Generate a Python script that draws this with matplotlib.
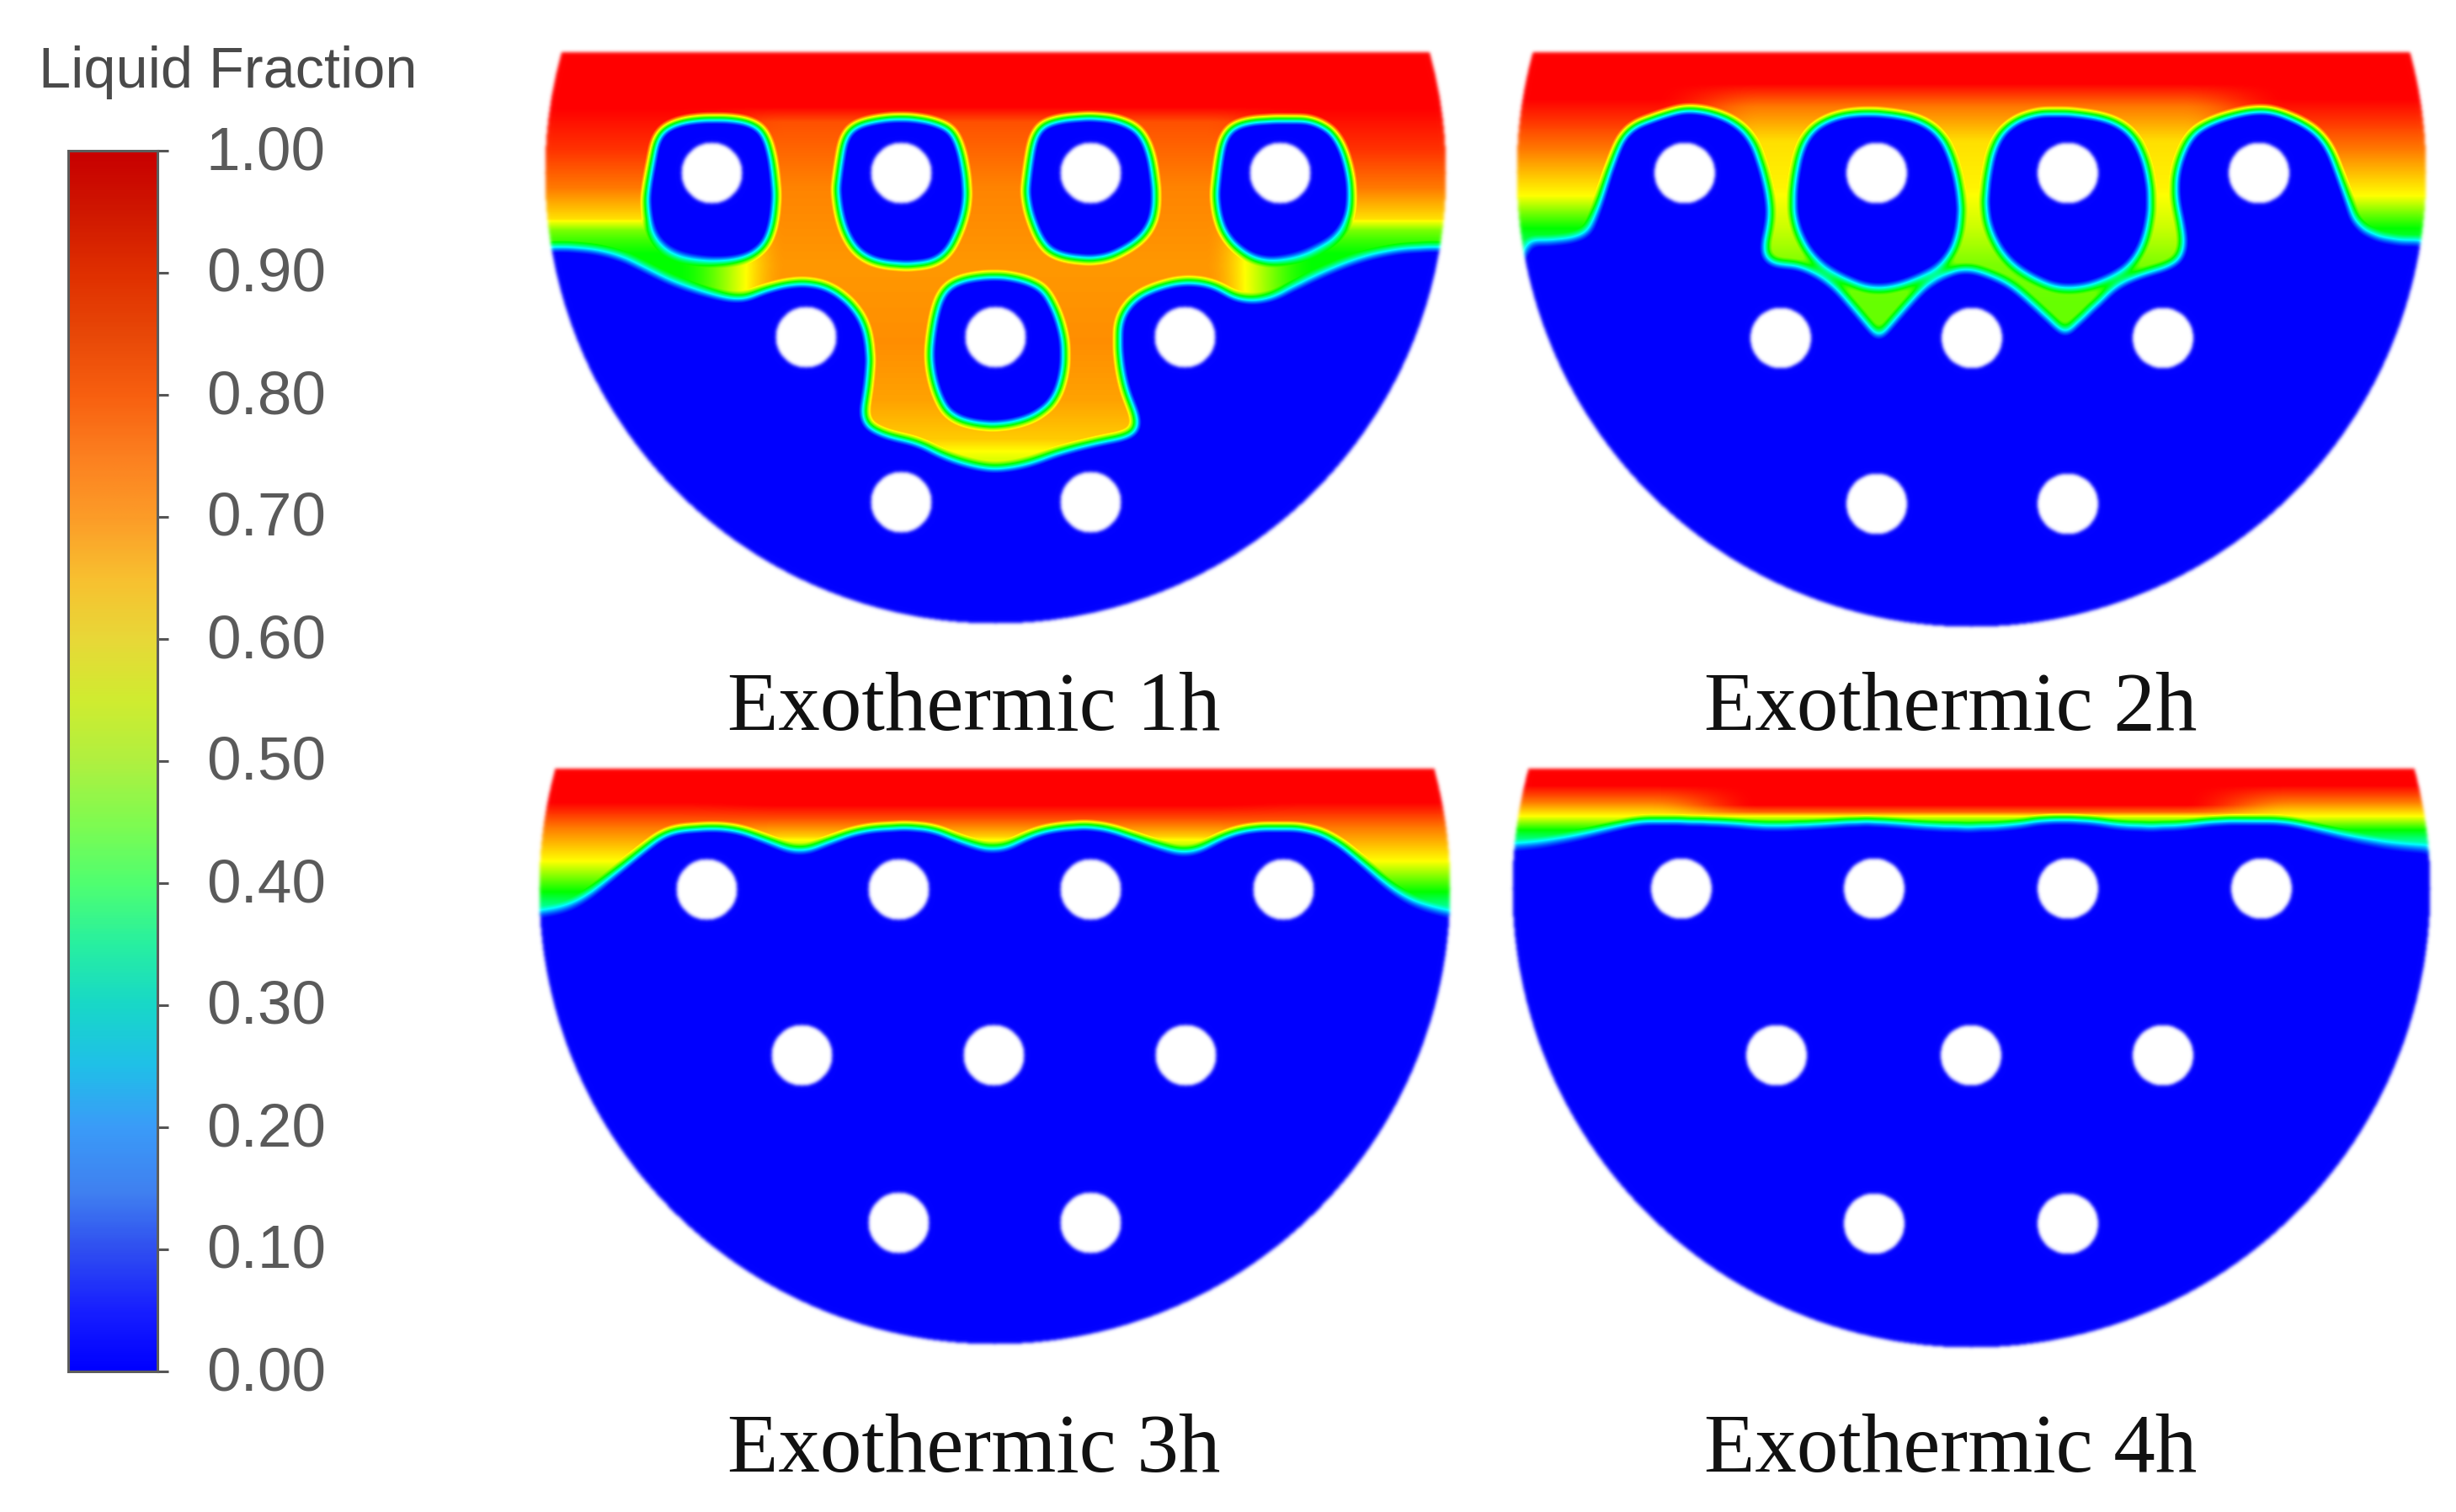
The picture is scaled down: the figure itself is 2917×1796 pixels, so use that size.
import numpy as np
import matplotlib
matplotlib.use("Agg")
import matplotlib.pyplot as plt
from matplotlib.colors import LinearSegmentedColormap
from matplotlib.path import Path
from matplotlib.transforms import ScaledTranslation

W, H = 2917, 1796

# ---------- data ----------
bar_levels = [0, .05, .10, .145, .20, .25, .30, .35, .40, .45, .50, .55, .60, .65, .70, .75, .80, .85, .90, .95, 1.0]
bar_colors = ['#0000ff', '#1820ff', '#3050f0', '#4080f0', '#3a9cf8', '#20c0e8', '#18d8c8', '#28f0a0',
              '#50ff70', '#80fb50', '#b0f040', '#d0ec30', '#e8d838', '#f8c030', '#fc9c28', '#fc8020',
              '#f86010', '#e84808', '#e03000', '#d01800', '#c80000']
bar_ticks = [0, .1, .2, .3, .4, .5, .6, .7, .8, .9, 1.0]
captions = ['Exothermic 1h', 'Exothermic 2h', 'Exothermic 3h', 'Exothermic 4h']

# domain circles: centre x, centre y, radius, flat top y
domains = [(1182, 206, 535, 63), (2341.5, 205, 540, 63), (1181, 1056, 541, 914), (2341.5, 1056, 545, 914)]

tubes = [
    [(845, 206), (1070, 206), (1295, 206), (1520, 206), (957, 401), (1182, 401), (1407, 401), (1070, 597), (1295, 597)],
    [(2001, 206), (2229, 206), (2456, 206), (2683, 206), (2115, 402), (2342, 402), (2569, 402), (2229, 599), (2456, 599)],
    [(839, 1057), (1067, 1057), (1295, 1057), (1524, 1057), (952, 1254), (1180, 1254), (1408, 1254), (1067, 1453), (1295, 1453)],
    [(1997, 1056), (2226, 1056), (2456, 1056), (2686, 1056), (2110, 1254), (2341, 1254), (2569, 1254), (2226, 1454), (2456, 1454)],
]

# crop frames in which the interface outlines were read: x0, y0, x scale, y scale
frames = [(620, 40, 1.4, 2.178), (1780, 40, 1.4, 2.178), (620, 890, 1.4, 3.0), (1780, 890, 1.4, 3.0)]

solid_p1 = [
    [(0, 552), (100, 552), (160, 572), (200, 602), (250, 642), (310, 672), (365, 688), (400, 662), (450, 642), (500, 647),
     (540, 685), (570, 745), (580, 830), (575, 920), (565, 1005), (600, 1037), (660, 1057), (700, 1092), (750, 1117),
     (790, 1125), (840, 1112), (890, 1082), (950, 1057), (1017, 1037), (1022, 1000), (1000, 920), (990, 830), (990, 740),
     (1015, 685), (1050, 657), (1100, 637), (1150, 647), (1190, 687), (1240, 687), (1290, 647), (1360, 597), (1420, 567),
     (1480, 552), (1600, 552), (1600, 1700), (0, 1700)],
    [(315, 217), (260, 225), (223, 257), (213, 340), (203, 430), (213, 525), (250, 577), (320, 595), (380, 583), (413, 535),
     (425, 420), (410, 260), (375, 223)],
    [(630, 213), (565, 227), (535, 257), (525, 350), (520, 420), (535, 525), (570, 590), (640, 605), (700, 590), (730, 505),
     (743, 410), (725, 260), (690, 227)],
    [(935, 213), (875, 225), (850, 257), (840, 350), (835, 430), (855, 525), (880, 575), (945, 590), (990, 575), (1045, 515),
     (1057, 420), (1040, 265), (995, 220)],
    [(1260, 220), (1195, 227), (1165, 260), (1155, 350), (1150, 440), (1165, 525), (1205, 580), (1245, 595), (1305, 575),
     (1370, 515), (1383, 400), (1360, 265), (1315, 220)],
    [(787, 623), (725, 635), (695, 670), (680, 760), (675, 860), (695, 965), (725, 1005), (790, 1020), (855, 995), (895, 935),
     (907, 800), (875, 665), (835, 635)],
]
solid_p2 = [
    [(0, 536), (140, 536), (160, 470), (185, 340), (210, 245), (270, 210), (315, 190), (375, 210), (420, 260), (445, 370),
     (455, 470), (440, 565), (452, 590), (470, 596), (497, 598), (530, 620), (558, 652), (578, 685), (632, 785), (632, 785),
     (688, 685), (708, 652), (740, 622), (775, 604), (810, 618), (850, 646), (880, 685), (942, 775), (942, 775), (1003, 685),
     (1025, 652), (1060, 625), (1125, 596), (1137, 560), (1137, 520), (1120, 400), (1135, 300), (1165, 235), (1260, 190),
     (1315, 210), (1375, 265), (1405, 390), (1435, 536), (1600, 536), (1600, 1700), (0, 1700)],
    [(630, 200), (555, 210), (505, 265), (487, 400), (490, 500), (525, 595), (590, 650), (630, 665), (680, 650), (750, 595),
     (775, 470), (755, 305), (715, 225)],
    [(945, 200), (875, 207), (825, 265), (807, 400), (810, 500), (845, 595), (905, 650), (945, 665), (1000, 650), (1065, 590),
     (1090, 450), (1075, 305), (1035, 225)],
]
solid_p3 = [
    [(-20, 596), (60, 576), (100, 536), (150, 446), (200, 356), (240, 291), (290, 278), (350, 278), (400, 316), (460, 371),
     (510, 326), (560, 286), (620, 274), (680, 278), (730, 326), (790, 366), (850, 296), (900, 274), (960, 271), (1010, 306),
     (1060, 346), (1110, 376), (1170, 301), (1220, 276), (1300, 276), (1350, 316), (1400, 406), (1450, 506), (1500, 566),
     (1590, 606), (1590, 2500), (-20, 2500)],
]
solid_p4 = [
    [(-20, 351), (60, 341), (130, 311), (190, 276), (240, 251), (300, 254), (380, 261), (440, 276), (520, 271), (600, 256),
     (650, 261), (720, 276), (800, 281), (870, 268), (900, 251), (980, 251), (1040, 276), (1130, 276), (1190, 254),
     (1300, 251), (1350, 276), (1420, 316), (1490, 346), (1590, 361), (1590, 2500), (-20, 2500)],
]
solids = [solid_p1, solid_p2, solid_p3, solid_p4]

# melt fraction against crop height: outer sides of the vessel, and between the tubes
side_y = [[48, 190, 300, 400, 480, 510, 535, 570], [48, 170, 300, 420, 470, 505, 540],
          [70, 190, 280, 400, 510, 560, 600], [65, 130, 190, 240, 290, 325, 350]]
side_v = [[1, 1, .95, .88, .78, .62, .56, .5], [1, 1, .88, .75, .6, .5, .42],
          [1, 1, .88, .75, .5, .36, .3], [1, 1, .88, .75, .5, .36, .3]]
mid_y = [[48, 190, 230, 400, 600, 800, 950, 1050, 1100], [48, 130, 190, 280, 400, 500, 600, 700],
         [70, 200, 250, 310, 350, 380], [65, 200, 225, 245, 270, 300]]
mid_v = [[1, 1, .92, .87, .85, .86, .84, .8, .72], [1, 1, .88, .78, .76, .7, .62, .6],
         [1, 1, .92, .8, .66, .5], [1, 1, .9, .7, .5, .35]]

# ---------- helpers ----------
panel_cmap = LinearSegmentedColormap.from_list(
    'melt', [(0, '#0000ff'), (.25, '#00ffff'), (.5, '#00ff00'), (.75, '#ffff00'), (1, '#ff0000')], N=512)
bar_cmap = LinearSegmentedColormap.from_list('bar', list(zip(bar_levels, bar_colors)), N=512)


def blur(a, sigma):
    r = int(3 * sigma + 1)
    k = np.exp(-0.5 * (np.arange(-r, r + 1) / sigma) ** 2)
    k /= k.sum()
    p = np.pad(a, r, mode='edge')
    p = np.apply_along_axis(lambda s: np.convolve(s, k, mode='same'), 0, p)
    p = np.apply_along_axis(lambda s: np.convolve(s, k, mode='same'), 1, p)
    return p[r:-r, r:-r]


def chaikin(p, n=2):
    p = np.asarray(p, float)
    for _ in range(n):
        q = np.roll(p, -1, axis=0)
        p = np.column_stack([.75 * p + .25 * q, .25 * p + .75 * q]).reshape(-1, 2)
    return p


def build_field(i, X, Y):
    x0, y0, sx, sy = frames[i]
    pts = np.column_stack([X.ravel(), Y.ravel()])
    solid = np.zeros(X.shape, bool)
    for poly in solids[i]:
        q = chaikin(poly)
        q = np.column_stack([q[:, 0] / sx + x0, q[:, 1] / sy + y0])
        solid |= Path(q).contains_points(pts).reshape(X.shape)
    m = blur((~solid).astype(float), 6.0)
    m = np.clip((m - .10) / .80, 0, 1)
    cx, cy, R, top = domains[i]
    zy = (Y - y0) * sy
    sideval = np.interp(zy, side_y[i], side_v[i])
    midval = np.interp(zy, mid_y[i], mid_v[i])
    w = np.clip((np.abs(X - cx) - 250) / 130, 0, 1)
    w = w * w * (3 - 2 * w)
    return (w * sideval + (1 - w) * midval) * m


def build_alpha(i, X, Y):
    cx, cy, R, top = domains[i]
    inside = ((X - cx) ** 2 + (Y - cy) ** 2 <= R ** 2) & (Y >= top)
    for tx, ty in tubes[i]:
        inside &= (X - tx) ** 2 + (Y - ty) ** 2 > 36 ** 2
    return np.clip(blur(inside.astype(float), 2.0), 0, 1)


# ---------- drawing ----------
fig = plt.figure(figsize=(W / 100, H / 100), dpi=100, facecolor='white')
ax = fig.add_axes([0, 0, 1, 1])
ax.set_xlim(0, W)
ax.set_ylim(H, 0)
ax.axis('off')

cap_xy = [(1157, 867), (2317, 867), (1157, 1748), (2317, 1748)]
for i, (cx, cy, R, top) in enumerate(domains):
    xs = np.arange(cx - R - 20, cx + R + 21, 1.0)
    ys = np.arange(top - 20, cy + R + 21, 1.0)
    X, Y = np.meshgrid(xs, ys)
    ax.imshow(build_field(i, X, Y), cmap=panel_cmap, vmin=0, vmax=1, alpha=build_alpha(i, X, Y),
              extent=(xs[0] - .5, xs[-1] + .5, ys[-1] + .5, ys[0] - .5), interpolation='bilinear', aspect='auto')
    ax.text(cap_xy[i][0], cap_xy[i][1], captions[i], family='Liberation Serif', fontsize=99 * .72,
            ha='center', va='baseline', color='#111111')
ax.set_xlim(0, W)
ax.set_ylim(H, 0)

# colour bar
x0, x1, y0, y1 = 81, 187, 179, 1629
cax = fig.add_axes([x0 / W, 1 - y1 / H, (x1 - x0) / W, (y1 - y0) / H])
grad = np.linspace(0, 1, 600)[:, None]
cax.imshow(grad, cmap=bar_cmap, vmin=0, vmax=1, origin='lower', extent=(0, 1, 0, 1), aspect='auto')
cax.set_xticks([])
cax.yaxis.tick_right()
cax.set_yticks(bar_ticks)
cax.set_yticklabels([f'{t:.2f}' for t in bar_ticks], family='Liberation Sans', fontsize=73 * .72, color='#5a5a5a')
cax.tick_params(axis='y', length=13 * .72, width=2.2, color='#555555', pad=45 * .72)
shift = ScaledTranslation(0, 4 / 100, fig.dpi_scale_trans)
for lab in cax.get_yticklabels():
    lab.set_transform(lab.get_transform() + shift)
for s in cax.spines.values():
    s.set_edgecolor('#5c5c5c')
    s.set_linewidth(2.2)

ax.text(46, 104, 'Liquid Fraction', family='Liberation Sans', fontsize=68.5 * .72, color='#4a4a4a',
        ha='left', va='baseline')

fig.savefig('out.png', dpi=100, facecolor='white')
